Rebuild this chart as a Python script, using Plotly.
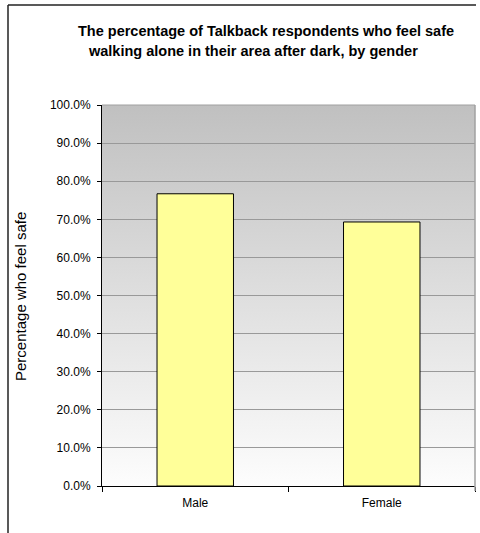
import base64
import plotly.graph_objects as go

categories = ["Male", "Female"]
values = [0.767, 0.693]
title_lines = ["The percentage of Talkback respondents who feel safe",
               "walking alone in their area after dark, by gender"]
y_title = "Percentage who feel safe"

FONT = "Liberation Sans, Arial, sans-serif"

svg = ('<svg xmlns="http://www.w3.org/2000/svg" width="100" height="100" preserveAspectRatio="none">'
       '<defs><linearGradient id="g" x1="0" y1="0" x2="0" y2="1">'
       '<stop offset="0" stop-color="#c0c0c0"/><stop offset="1" stop-color="#fdfdfd"/>'
       '</linearGradient></defs><rect width="100" height="100" fill="url(#g)"/></svg>')
svg_uri = "data:image/svg+xml;base64," + base64.b64encode(svg.encode()).decode()

fig = go.Figure()
fig.add_trace(go.Bar(
    x=categories, y=values,
    marker=dict(color="#ffff99", line=dict(color="#000000", width=1)),
    hoverinfo="skip",
))

W, H = 480, 533
L, R, T, B = 102, 5, 105, 47
pw, ph = W - L - R, H - T - B

def px(xp):
    return (xp - L) / pw

def py(yp):
    return (H - B - yp) / ph

fig.update_layout(
    width=W, height=H,
    margin=dict(l=L, r=R, t=T, b=B, pad=0),
    paper_bgcolor="white",
    plot_bgcolor="rgba(0,0,0,0)",
    showlegend=False,
    bargap=0.59,
    font=dict(family=FONT, size=12, color="#000000"),
    images=[dict(source=svg_uri, xref="paper", yref="paper", x=0, y=1,
                 sizex=1, sizey=1, sizing="stretch", layer="below",
                 xanchor="left", yanchor="top")],
    xaxis=dict(showline=True, linecolor="#000000", linewidth=1,
               ticks="outside", tickson="boundaries", ticklen=5, tickcolor="#000000",
               showgrid=False, tickfont=dict(size=12, family=FONT),
               ticklabelstandoff=6, fixedrange=True),
    yaxis=dict(range=[0, 1], dtick=0.1, tickformat=".1%",
               showline=True, linecolor="#000000", linewidth=1,
               ticks="outside", ticklen=4, tickcolor="#000000",
               showgrid=True, gridcolor="#999999", gridwidth=1,
               zeroline=False, tickfont=dict(size=12, family=FONT),
               ticklabelstandoff=4, fixedrange=True),
    shapes=[
        dict(type="line", xref="paper", yref="paper", x0=0, x1=1, y0=1, y1=1,
             line=dict(color="#a0a0a0", width=1), layer="above"),
        dict(type="line", xref="paper", yref="paper", x0=1, x1=1, y0=py(491), y1=1,
             line=dict(color="#a0a0a0", width=1.5), layer="above"),
        dict(type="line", xref="paper", yref="paper", x0=px(8), x1=px(476), y0=py(5), y1=py(5),
             line=dict(color="#222222", width=1.5), layer="above"),
        dict(type="line", xref="paper", yref="paper", x0=px(8), x1=px(8), y0=py(5), y1=py(540),
             line=dict(color="#222222", width=1.5), layer="above"),
    ],
    annotations=[
        dict(text="<b>%s</b>" % title_lines[0], xref="paper", yref="paper",
             x=px(266), y=py(31), xanchor="center", yanchor="middle", showarrow=False,
             font=dict(size=14.5, family=FONT)),
        dict(text="<b>%s</b>" % title_lines[1], xref="paper", yref="paper",
             x=px(253), y=py(51), xanchor="center", yanchor="middle", showarrow=False,
             font=dict(size=14.5, family=FONT)),
        dict(text=y_title, xref="paper", yref="paper", textangle=-90,
             x=px(20), y=py(297), xanchor="center", yanchor="middle", showarrow=False,
             font=dict(size=15, family=FONT)),
    ],
)

fig.write_html("out.html")
